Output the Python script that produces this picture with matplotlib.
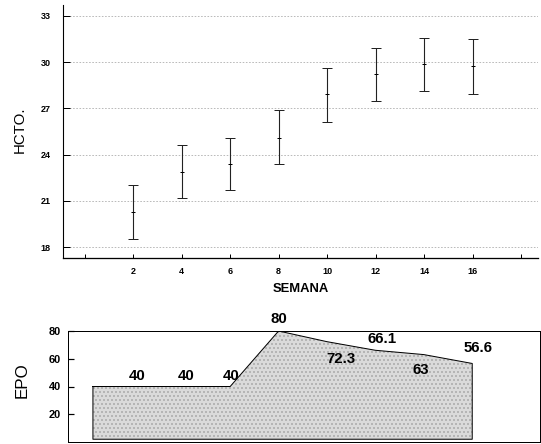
import matplotlib
matplotlib.use("Agg")
import matplotlib.pyplot as plt

plt.rcParams['font.family'] = ['Liberation Sans', 'DejaVu Sans']
plt.rcParams['hatch.color'] = '#8a8a8a'
plt.rcParams['hatch.linewidth'] = 0.6

# ---- data ----
weeks = [2, 4, 6, 8, 10, 12, 14, 16]
hct_mean = [20.3, 22.9, 23.4, 25.1, 27.9, 29.2, 29.85, 29.75]
hct_low = [18.5, 21.2, 21.7, 23.4, 26.1, 27.45, 28.1, 27.95]
hct_high = [22.0, 24.6, 25.1, 26.9, 29.6, 30.9, 31.55, 31.5]
y_ticks = [18, 21, 24, 27, 30, 33]
x_ticks = [0, 2, 4, 6, 8, 10, 12, 14, 16, 18]
x_tick_labels = ['', '2', '4', '6', '8', '10', '12', '14', '16', '']

epo_weeks = [2, 4, 6, 8, 10, 12, 14, 16]
epo = [40, 40, 40, 80, 72.3, 66.1, 63, 56.6]
epo_labels = ['40', '40', '40', '80', '72.3', '66.1', '63', '56.6']
epo_ticks = [20, 40, 60, 80]

W, H = 541, 444
fig = plt.figure(figsize=(W / 72, H / 72), dpi=72)

# ---- top panel ----
ax = fig.add_axes([63 / W, (H - 258) / H, (538 - 63) / W, (258 - 5) / H])
yerr = [[m - l for m, l in zip(hct_mean, hct_low)],
        [h - m for m, h in zip(hct_mean, hct_high)]]
ax.errorbar(weeks, hct_mean, yerr=yerr, fmt='_', color='black', ecolor='#222222',
            elinewidth=1.1, capsize=5, capthick=1.1, markersize=4, markeredgewidth=1)
ax.set_xlim(-0.9, 18.7)
ax.set_ylim(17.3, 33.7)
ax.set_yticks(y_ticks)
ax.set_yticklabels([str(v) for v in y_ticks], fontsize=9, fontweight='bold')
ax.set_xticks(x_ticks)
ax.set_xticklabels(x_tick_labels, fontsize=9, fontweight='bold')
ax.tick_params(axis='y', direction='in', length=7, width=1, pad=12)
ax.tick_params(axis='x', direction='in', length=4, width=1, pad=9)
for y in y_ticks:
    ax.axhline(y, color='#aaaaaa', lw=0.8, ls=(0, (2, 2)), zorder=0)
for s in ['top', 'right']:
    ax.spines[s].set_visible(False)
ax.spines['left'].set_linewidth(1.1)
ax.spines['bottom'].set_linewidth(1.3)
ax.set_xlabel('SEMANA', fontsize=13, fontweight='bold', labelpad=7)
fig.text(20 / W, (H - 130) / H, 'HCTO.', rotation=90, fontsize=15,
         ha='center', va='center')

# ---- bottom panel ----
bx = fig.add_axes([68 / W, (H - 442) / H, (540 - 68) / W, (442 - 331) / H])
xs = [0.33] + epo_weeks
ys = [epo[0]] + epo
bx.fill_between(xs, 2, ys, facecolor='#dadada', edgecolor='none', hatch='...',
                zorder=1)
bx.plot(xs + [xs[-1], xs[0], xs[0]], ys + [2, 2, ys[0]], color='black', lw=1, zorder=2)
offsets = [(4, 11), (4, 11), (1, 11), (0, 12), (14, -17), (7, 11), (-3, -15), (6, 15)]
for x, y, lab, off in zip(epo_weeks, epo, epo_labels, offsets):
    bx.annotate(lab, (x, y), xytext=off, textcoords='offset points',
                ha='center', va='center', fontsize=15, fontweight='bold',
                annotation_clip=False)
bx.set_xlim(-0.7, 18.8)
bx.set_ylim(0, 79)
bx.set_xticks([])
bx.set_yticks(epo_ticks)
bx.set_yticklabels([str(v) for v in epo_ticks], fontsize=11, fontweight='bold')
bx.tick_params(axis='y', direction='in', length=6, width=1.2, pad=7)
for s in bx.spines.values():
    s.set_linewidth(1)
bx.patch.set_alpha(0)
fig.text(22 / W, (H - 380) / H, 'EPO', rotation=90, fontsize=17,
         ha='center', va='center')

fig.savefig('out.png', dpi=72)
